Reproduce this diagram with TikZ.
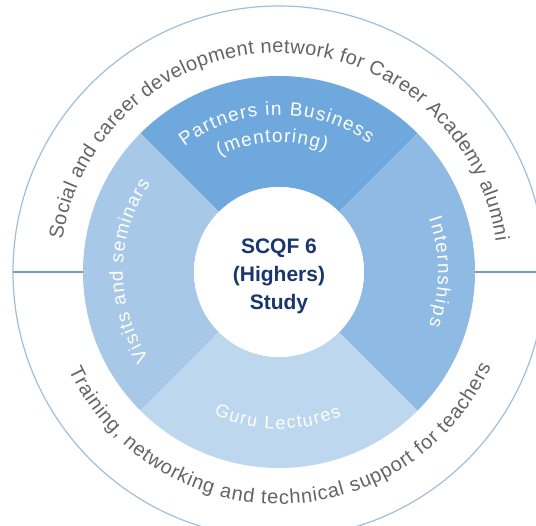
\documentclass[tikz,border=0pt]{standalone}
\usepackage{fontspec}
\setmainfont{Liberation Sans}
\usepackage{xcolor}
\usepackage{tikz}
\usetikzlibrary{decorations.text}

\definecolor{ringtop}{RGB}{111,168,220}
\definecolor{ringright}{RGB}{142,186,227}
\definecolor{ringleft}{RGB}{168,200,232}
\definecolor{ringbottom}{RGB}{189,215,238}
\definecolor{rimline}{RGB}{160,190,215}
\definecolor{splitline}{RGB}{115,155,200}
\definecolor{rimgrey}{RGB}{100,100,100}
\definecolor{hubblue}{RGB}{25,55,110}

\newcommand{\rimfont}{\fontsize{20}{20}\selectfont\color{rimgrey}}
\newcommand{\ringfont}{\fontsize{19}{19}\selectfont\color{white}}
\newcommand{\gurufont}{\fontsize{18}{18}\selectfont\color{white}}

\begin{document}
\begin{tikzpicture}[x=1pt,y=1pt,
    arctext/.style={decorate,decoration={text along path,text align={fit to path},text={#1}}}]
    \useasboundingbox (0,0) rectangle (536,526);
    \clip (0,0) rectangle (536,526);

		\coordinate (C) at (279,254);

		% outer rim
		\draw[rimline, line width=1.2] (C) circle[radius=266];

		% ring of four activities
		\foreach \a/\b/\col in {45/135/ringtop, 135/225/ringleft, 225/315/ringbottom, 315/405/ringright}{
		  \fill[\col] ([shift={(C)}]\a:85) arc[start angle=\a, end angle=\b, radius=85]
		    -- ([shift={(C)}]\b:196) arc[start angle=\b, end angle=\a, radius=196] -- cycle;
		}
		\fill[white] (C) circle[radius=85];

		\coordinate (rimL) at ([shift={(C)}]180:266);
		\coordinate (ringL) at ([shift={(C)}]180:196);
		\coordinate (ringR) at ([shift={(C)}]0:196);
		\coordinate (rimR) at ([shift={(C)}]0:266);
		\draw[splitline, line width=1.5] (rimL) -- (ringL);
		\draw[splitline, line width=1.5] (ringR) -- (rimR);

		% rim texts
		\path[arctext={|\rimfont|Social and career development network for Career Academy alumni}]
		  ([shift={(C)}]171.5:219) arc[start angle=171.5, end angle=8, radius=219];
		\path[arctext={|\rimfont|Training, networking and technical support for teachers}]
		  ([shift={(C)}]205:232) arc[start angle=205, end angle=336, radius=232];

		% ring texts
		\path[arctext={|\ringfont|Partners in Business}]
		  ([shift={(C)}]127:157) arc[start angle=127, end angle=55, radius=157];
		\path[arctext={|\ringfont|(mentoring)}]
		  ([shift={(C)}]117:130) arc[start angle=117, end angle=69, radius=130];
		\path[arctext={|\ringfont|Visits and seminars}]
		  ([shift={(C)}]213.5:156) arc[start angle=213.5, end angle=145.5, radius=156];
		\path[arctext={|\ringfont|Internships}]
		  ([shift={(C)}]19.5:159) arc[start angle=19.5, end angle=-19.5, radius=159];
		\path[arctext={|\gurufont|Guru Lectures}]
		  ([shift={(C)}]245.5:157) arc[start angle=245.5, end angle=293.5, radius=157];

	    \node[font=\fontsize{21}{28}\selectfont\bfseries, text=hubblue, align=center] (study) at (279,250) {SCQF 6\\(Highers)\\Study};

    \end{tikzpicture}
\end{document}
